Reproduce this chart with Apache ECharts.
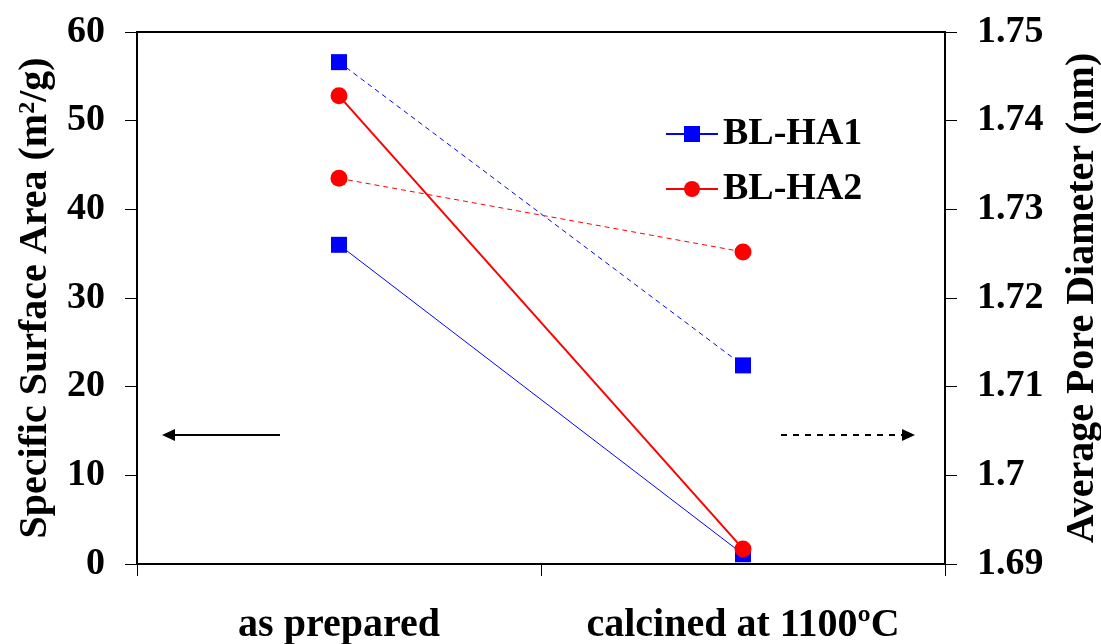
<!DOCTYPE html>
<html><head><meta charset="utf-8">
<script src="https://cdn.jsdelivr.net/npm/echarts@6/dist/echarts.min.js"></script>
<style>html,body{margin:0;padding:0;background:#fff}#c{width:1101px;height:644px}</style>
</head><body><div id="c"></div>
<script>
const categories = ['as prepared', 'calcined at 1100ºC'];
const areaHA1 = [36.0, 1.1];
const areaHA2 = [52.8, 1.7];
const poreHA1 = [1.7466, 1.7124];
const poreHA2 = [1.7335, 1.7252];
const leftTicks = {min: 0, max: 60, interval: 10};
const rightTicks = {min: 1.69, max: 1.75, interval: 0.01};

const FONT = "'Liberation Serif', 'Times New Roman', serif";
const chart = echarts.init(document.getElementById('c'));
const lbl = {color: '#000', fontFamily: FONT, fontWeight: 'bold', fontSize: 38};
const ttl = {color: '#000', fontFamily: FONT, fontWeight: 'bold', fontSize: 40};
chart.setOption({
  animation: false,
  grid: {left: 137, right: 156, top: 32, bottom: 80, show: true, borderColor: '#000', borderWidth: 2,
         backgroundColor: 'transparent', outerBoundsMode: 'none', containLabel: false},
  legend: {
    data: ['BL-HA1', 'BL-HA2'], orient: 'vertical', left: 660, top: 110,
    itemWidth: 52, itemHeight: 20, itemGap: 17,
    textStyle: {color: '#000', fontFamily: FONT, fontWeight: 'bold', fontSize: 38, padding: [0, 0, 0, 0]}
  },
  xAxis: {
    type: 'category', data: categories, boundaryGap: true,
    axisLine: {lineStyle: {color: '#000', width: 2}},
    axisTick: {show: true, length: 12, inside: false, lineStyle: {color: '#000', width: 1}},
    axisLabel: Object.assign({margin: 42, interval: 0, hideOverlap: false}, ttl)
  },
  yAxis: [{
    type: 'value', min: leftTicks.min, max: leftTicks.max, interval: leftTicks.interval,
    position: 'left',
    name: '{t|Specific Surface Area (m}{s|2}{t|/g)}',
    nameLocation: 'middle', nameRotate: 90, nameGap: 76,
    nameTextStyle: {rich: {t: Object.assign({}, ttl), s: Object.assign({}, ttl, {fontSize: 24, verticalAlign: 'top', padding: [0, 0, 16, 0]})}},
    axisLine: {show: true, lineStyle: {color: '#000', width: 2}},
    axisTick: {show: true, length: 12, lineStyle: {color: '#000', width: 1}},
    axisLabel: Object.assign({margin: 32}, lbl),
    splitLine: {show: false}
  }, {
    type: 'value', min: rightTicks.min, max: rightTicks.max, interval: rightTicks.interval,
    position: 'right',
    name: 'Average Pore Diameter (nm)',
    nameLocation: 'middle', nameRotate: 90, nameGap: 118,
    nameTextStyle: ttl,
    axisLine: {show: true, lineStyle: {color: '#000', width: 2}},
    axisTick: {show: true, length: 12, lineStyle: {color: '#000', width: 1}},
    axisLabel: Object.assign({margin: 32, formatter: v => String(+v.toFixed(2))}, lbl),
    splitLine: {show: false}
  }],
  series: [
    {name: 'BL-HA1', type: 'line', yAxisIndex: 0, data: areaHA1, symbol: 'rect', symbolSize: 16,
     itemStyle: {color: '#0000ff'}, lineStyle: {color: '#0000ff', width: 1}, z: 3},
    {name: 'BL-HA2', type: 'line', yAxisIndex: 0, data: areaHA2, symbol: 'circle', symbolSize: 17,
     itemStyle: {color: '#ff0000'}, lineStyle: {color: '#ff0000', width: 2}, z: 4},
    {name: 'BL-HA1 pore', type: 'line', yAxisIndex: 1, data: poreHA1, symbol: 'rect', symbolSize: 16,
     itemStyle: {color: '#0000ff'}, lineStyle: {color: '#0000ff', width: 1, type: [5, 4]}, z: 3},
    {name: 'BL-HA2 pore', type: 'line', yAxisIndex: 1, data: poreHA2, symbol: 'circle', symbolSize: 17,
     itemStyle: {color: '#ff0000'}, lineStyle: {color: '#ff0000', width: 1, type: [5, 4]}, z: 4}
  ],
  graphic: [
    {type: 'line', shape: {x1: 172, y1: 435, x2: 280, y2: 435}, style: {stroke: '#000', lineWidth: 2}},
    {type: 'polygon', shape: {points: [[162, 435], [175, 429], [175, 441]]}, style: {fill: '#000'}},
    {type: 'line', shape: {x1: 781, y1: 435, x2: 905, y2: 435}, style: {stroke: '#000', lineWidth: 2, lineDash: [6, 6]}},
    {type: 'polygon', shape: {points: [[915, 435], [902, 429], [902, 441]]}, style: {fill: '#000'}}
  ]
});
</script></body></html>
